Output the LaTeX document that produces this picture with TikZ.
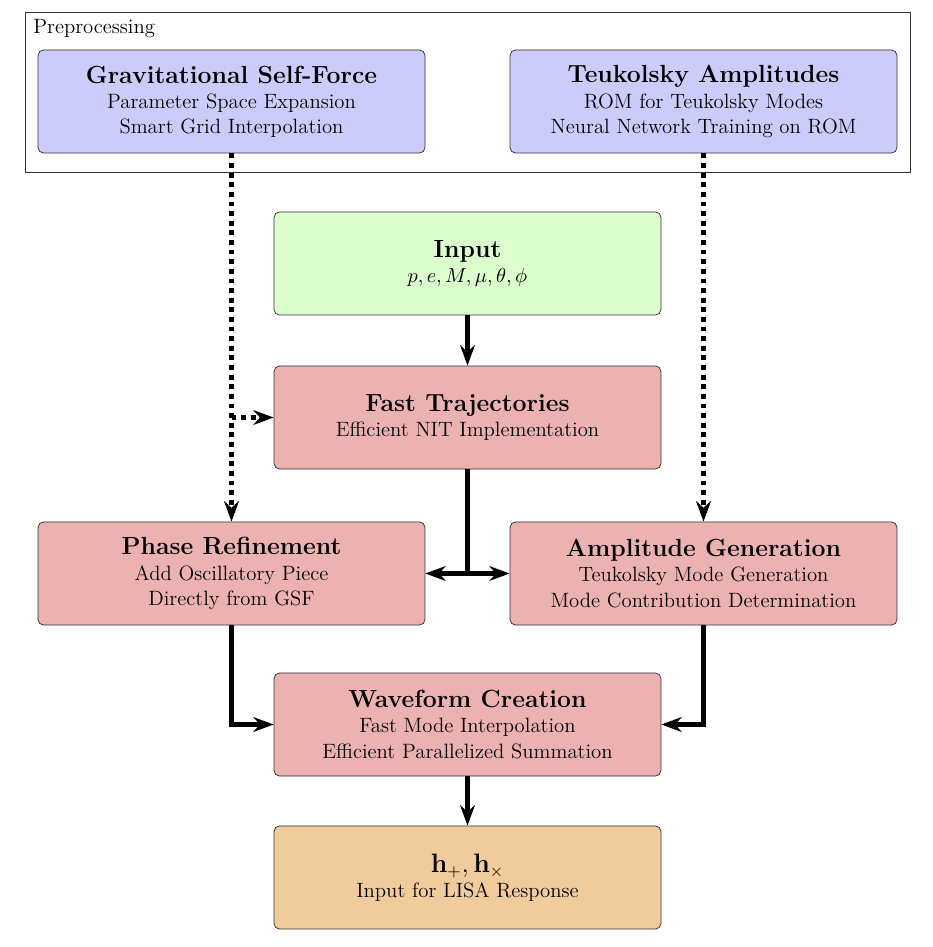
\documentclass[tikz,border=0pt]{standalone}
\usepackage{amsmath}
\usetikzlibrary{positioning,arrows.meta}

\definecolor{preblue}{RGB}{204,204,250}
\definecolor{ingreen}{RGB}{220,253,204}
\definecolor{stepred}{RGB}{236,177,177}
\definecolor{outorange}{RGB}{240,203,155}

\newcommand{\boxtitle}[1]{{\fontsize{13.4}{16.5}\selectfont\bfseries #1}}

\tikzset{
  block/.style={draw=black!80, rounded corners=3pt, align=center,
    minimum width=7.35cm, minimum height=1.96cm, inner sep=2pt,
    font=\fontsize{11.2}{13.6}\selectfont},
  flow/.style={line width=2.6pt, -{Stealth[length=11pt,width=8pt]}},
  plainflow/.style={line width=2.6pt},
  preflow/.style={line width=2.6pt, dash pattern=on 2.6pt off 2.6pt,
    -{Stealth[length=11pt,width=8pt]}},
}

\begin{document}
\begin{tikzpicture}[x=0.019cm,y=-0.019cm]
\useasboundingbox (0,0) rectangle (933,947);

% preprocessing frame
\draw[black!80, line width=0.5pt] (25,12) rectangle (910,172);
\node[anchor=north west, inner sep=0pt, font=\fontsize{11.2}{13.6}\selectfont]
  (pretitle) at (33,19) {Preprocessing};

\node[block, fill=preblue] (gsf) at (231.5,101.5)
  {\boxtitle{Gravitational Self-Force}\\ Parameter Space Expansion\\ Smart Grid Interpolation};
\node[block, fill=preblue] (teuk) at (703.5,101.5)
  {\boxtitle{Teukolsky Amplitudes}\\ ROM for Teukolsky Modes\\ Neural Network Training on ROM};

\node[block, fill=ingreen] (input) at (467.5,263.5)
  {\boxtitle{Input}\\ $p, e, M, \mu, \theta, \phi$};
\node[block, fill=stepred] (traj) at (467.5,417.5)
  {\boxtitle{Fast Trajectories}\\ Efficient NIT Implementation};
\node[block, fill=stepred] (phase) at (231.5,573.5)
  {\boxtitle{Phase Refinement}\\ Add Oscillatory Piece\\ Directly from GSF};
\node[block, fill=stepred] (amp) at (703.5,573.5)
  {\boxtitle{Amplitude Generation}\\ Teukolsky Mode Generation\\ Mode Contribution Determination};
\node[block, fill=stepred] (wave) at (467.5,724.5)
  {\boxtitle{Waveform Creation}\\ Fast Mode Interpolation\\ Efficient Parallelized Summation};
\node[block, fill=outorange] (hout) at (467.5,877.5)
  {\boxtitle{$\mathbf{h}_{+}, \mathbf{h}_{\times}$}\\ Input for LISA Response};

% preprocessing feeds
\draw[preflow] (gsf.south) -- (phase.north);
\draw[preflow] (gsf.south |- traj.west) -- (traj.west);
\draw[preflow] (teuk.south) -- (amp.north);

% main chain
\draw[flow] (input) -- (traj);
\coordinate (split) at (traj.south |- phase.east);
\draw[plainflow] (traj.south) -- (split);
\draw[flow] (split) -- (phase.east);
\draw[flow] (split) -- (amp.west);
\draw[flow] (phase.south) |- (wave.west);
\draw[flow] (amp.south) |- (wave.east);
\draw[flow] (wave) -- (hout);
\end{tikzpicture}
\end{document}
